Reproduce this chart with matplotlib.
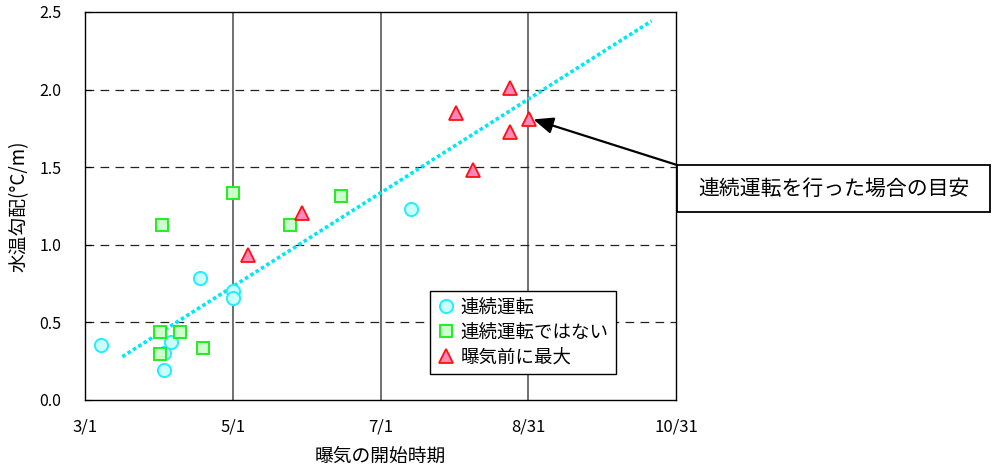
import matplotlib
matplotlib.use("Agg")
import matplotlib.pyplot as plt
from matplotlib.patches import Rectangle
from matplotlib.lines import Line2D

plt.rcParams['font.family'] = ['Noto Sans CJK JP', 'DejaVu Sans']

# x = days after 3/1
tick_days = [0, 61, 122, 183, 244]
tick_labels = ['3/1', '5/1', '7/1', '8/31', '10/31']

cont_x = [6.6, 32.6, 32.6, 35.7, 47.5, 61, 61, 134.4]
cont_y = [0.354, 0.193, 0.30, 0.372, 0.784, 0.702, 0.659, 1.231]

notcont_x = [31.9, 61, 84.6, 30.9, 39.4, 30.9, 48.6, 105.7]
notcont_y = [1.128, 1.332, 1.128, 0.436, 0.438, 0.294, 0.337, 1.312]

maxpre_x = [67.2, 89.7, 175.3, 153.3, 183.4, 175.3, 160.3]
maxpre_y = [0.934, 1.203, 2.008, 1.851, 1.808, 1.725, 1.482]

guide_x = [15.4, 233.9]
guide_y = [0.279, 2.442]

target = (185.1, 1.808)

fig = plt.figure(figsize=(9.92, 4.67), dpi=100)
ax = fig.add_axes([85/992, 1-400/467, 591/992, 388/467])

ax.set_xlim(0, 244)
ax.set_ylim(0, 2.5)

for t in tick_days[1:-1]:
    ax.axvline(t, color='#707070', lw=1.4, zorder=1)
for v in [0.5, 1.0, 1.5, 2.0]:
    ax.axhline(v, color='#222222', lw=0.9, dashes=(7, 5), zorder=1)

ax.plot(guide_x, guide_y, color='#00e8f8', lw=2.6, linestyle=(0, (1, 0.75)), zorder=2)

ax.plot(cont_x, cont_y, 'o', ms=9.5, mfc='#ccffff', mec='#22eeff', mew=1.4, zorder=3)
ax.plot(notcont_x, notcont_y, 's', ms=8.8, mfc='#ccffcc', mec='#22ee22', mew=1.4, zorder=3)
ax.plot(maxpre_x, maxpre_y, '^', ms=10, mfc='#ff88bb', mec='#ff1111', mew=1.3, zorder=4)

ax.set_xticks(tick_days)
ax.set_xticklabels(tick_labels)
ax.set_yticks([0, 0.5, 1.0, 1.5, 2.0, 2.5])
ax.set_yticklabels(['0.0', '0.5', '1.0', '1.5', '2.0', '2.5'])
ax.tick_params(axis='x', direction='in', length=0, pad=13, labelsize=12)
ax.tick_params(axis='y', direction='in', length=4, pad=17, labelsize=11.5)
for s in ax.spines.values():
    s.set_color('black')
    s.set_linewidth(1.0)

ax.set_xlabel('曝気の開始時期', fontsize=13.5)
ax.xaxis.set_label_coords(0.5, -0.118)
ax.set_ylabel('水温勾配(°C/m)', fontsize=13.5)
ax.yaxis.set_label_coords(-0.093, 0.5)

handles = [
    Line2D([], [], marker='o', ls='', ms=9.5, mfc='#ccffff', mec='#22eeff', mew=1.4),
    Line2D([], [], marker='s', ls='', ms=8.8, mfc='#ccffcc', mec='#22ee22', mew=1.4),
    Line2D([], [], marker='^', ls='', ms=10, mfc='#ff88bb', mec='#ff1111', mew=1.3),
]
labels = ['連続運転', '連続運転ではない', '曝気前に最大']
leg = fig.legend(handles, labels, loc='upper left', bbox_to_anchor=(430/992, 1-291/467),
                 borderaxespad=0, fancybox=False, framealpha=1, edgecolor='black',
                 fontsize=13.3, handlelength=0.9, handletextpad=0.35,
                 labelspacing=0.38, borderpad=0.4)
leg.get_frame().set_linewidth(1.0)

# annotation box
box_l, box_t, box_r, box_b = 677, 165, 990, 212
fig.patches.append(Rectangle((box_l/992, 1-box_b/467), (box_r-box_l)/992, (box_b-box_t)/467,
                             transform=fig.transFigure, fc='white', ec='black', lw=1.3, zorder=5))
fig.text((box_l+box_r)/2/992, 1-(box_t+box_b)/2/467, '連続運転を行った場合の目安',
         ha='center', va='center', fontsize=15, zorder=6)
ax.annotate('', xy=target, xytext=(box_l/992, 1-box_t/467), textcoords='figure fraction',
            arrowprops=dict(arrowstyle='-|>,head_length=0.6,head_width=0.25', color='black',
                            lw=1.6, mutation_scale=20, shrinkA=0, shrinkB=0),
            annotation_clip=False, zorder=6)

fig.savefig('out.png', dpi=100)
